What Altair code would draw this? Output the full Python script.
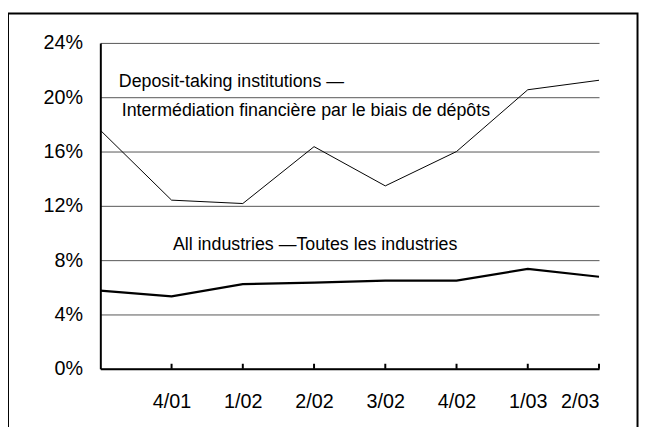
import altair as alt
import pandas as pd

FONT = "Liberation Sans, Arial, sans-serif"

# ---- data ----
quarters = ["", "4/01", "1/02", "2/02", "3/02", "4/02", "1/03", "2/03"]
deposit_taking = [17.57, 12.42, 12.17, 16.36, 13.47, 16.0, 20.55, 21.25]
all_industries = [5.76, 5.33, 6.23, 6.35, 6.49, 6.49, 7.36, 6.78]
y_ticks = [0, 4, 8, 12, 16, 20, 24]
x_ticks = [1, 2, 3, 4, 5, 6, 7]

ann_text = [
    "Deposit-taking institutions \u2014",
    "Interm\u00e9diation financi\u00e8re par le biais de d\u00e9p\u00f4ts",
    "All industries \u2014Toutes les industries",
]
ann_x = [0.26, 0.30, 1.02]
ann_y = [20.77, 18.59, 8.74]

df = pd.DataFrame({
    "idx": list(range(len(quarters))),
    "quarter": quarters,
    "deposit": deposit_taking,
    "all": all_industries,
})
ticks_df = pd.DataFrame({"idx": x_ticks})
ann_df = pd.DataFrame({"x": ann_x, "y": ann_y, "text": ann_text})

label_expr = "[" + ",".join("'" + q + "'" for q in quarters) + "][datum.value]"

x_scale = alt.Scale(domain=[0, 7], nice=False, zero=False)
y_scale = alt.Scale(domain=[0, 24], nice=False, zero=False)

x_axis = alt.Axis(values=x_ticks, labelExpr=label_expr, ticks=False, grid=False,
                  domainColor="black", domainWidth=2, labelFontSize=20,
                  labelPadding=23, labelColor="black", title=None)
y_axis = alt.Axis(values=y_ticks, labelExpr="datum.value + '%'", grid=True,
                  gridColor="#555555", gridWidth=1, ticks=False,
                  domainColor="black", domainWidth=2, labelFontSize=20,
                  labelPadding=18, labelColor="black", title=None)


def X(field):
    return alt.X(field, scale=x_scale, axis=x_axis)


def Y(field):
    return alt.Y(field, scale=y_scale, axis=y_axis)


base = alt.Chart(df)

dep_line = base.mark_line(color="black", strokeWidth=1).encode(
    x=X("idx:Q"), y=Y("deposit:Q"))
all_line = base.mark_line(color="black", strokeWidth=2.2).encode(
    x=X("idx:Q"), y=Y("all:Q"))

ticks = alt.Chart(ticks_df).mark_rule(color="black", strokeWidth=2).encode(
    x=X("idx:Q"), y=alt.datum(0), y2=alt.datum(0.37))

labels = alt.Chart(ann_df).mark_text(
    align="left", baseline="alphabetic", fontSize=18, color="black", font=FONT
).encode(x=X("x:Q"), y=Y("y:Q"), text="text:N")

frame = alt.Chart(alt.Data(values=[{}])).mark_rect(
    filled=False, stroke="black", strokeWidth=2
).encode(x=alt.value(-93.5), x2=alt.value(544), y=alt.value(-29.7), y2=alt.value(900))

chart = alt.layer(frame, dep_line, all_line, ticks, labels).properties(
    width=505, height=330,
    padding={"left": 93.5, "top": 32.7, "right": 40.5, "bottom": 56.3},
    autosize=alt.AutoSizeParams(type="none"),
).configure_view(stroke=None).configure_axis(labelFont=FONT)

chart.save("out.html", embed_options={"renderer": "svg", "actions": False})
